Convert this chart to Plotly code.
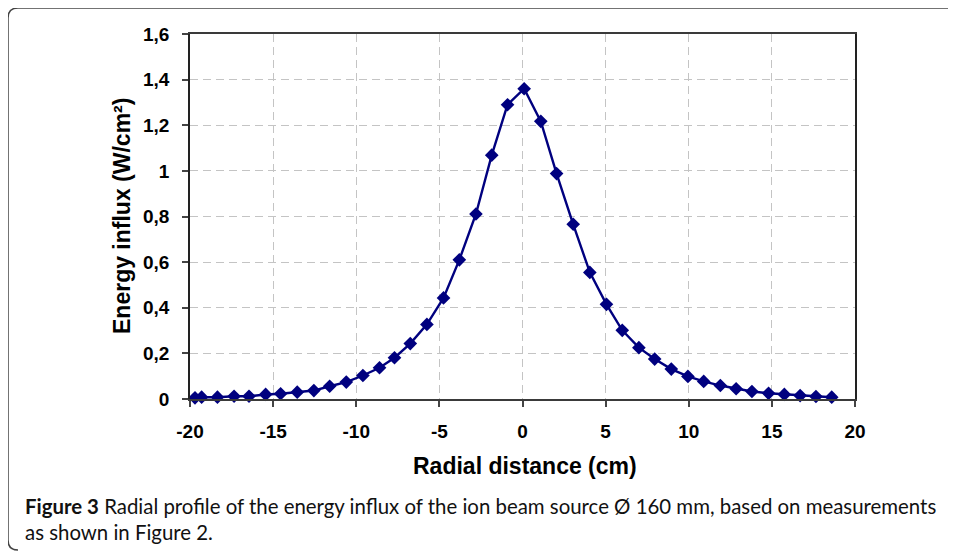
import plotly.graph_objects as go

# Data
radial_cm = [-19.7, -19.3, -18.35, -17.35, -16.45, -15.45, -14.55, -13.55, -12.55, -11.6,
             -10.6, -9.6, -8.6, -7.7, -6.75, -5.75, -4.75, -3.8, -2.8, -1.85,
             -0.9, 0.1, 1.1, 2.05, 3.05, 4.05, 5.05, 6.0, 7.0, 7.95,
             8.95, 9.95, 10.9, 11.9, 12.85, 13.8, 14.8, 15.75, 16.7, 17.65, 18.6]
influx = [0.005, 0.008, 0.008, 0.012, 0.012, 0.020, 0.023, 0.030, 0.037, 0.056,
          0.074, 0.103, 0.137, 0.181, 0.243, 0.327, 0.443, 0.610, 0.811, 1.069,
          1.290, 1.360, 1.217, 0.988, 0.766, 0.555, 0.415, 0.301, 0.225, 0.175,
          0.131, 0.099, 0.077, 0.059, 0.045, 0.033, 0.025, 0.020, 0.015, 0.011, 0.008]

x_tickvals = [-20, -15, -10, -5, 0, 5, 10, 15, 20]
x_ticktext = ["-20", "-15", "-10", "-5", "0", "5", "10", "15", "20"]
y_tickvals = [0, 0.2, 0.4, 0.6, 0.8, 1.0, 1.2, 1.4, 1.6]
y_ticktext = ["0", "0,2", "0,4", "0,6", "0,8", "1", "1,2", "1,4", "1,6"]

x_title = "Radial distance (cm)"
y_title = "Energy influx (W/cm²)"
caption_1 = "<b>Figure 3</b> Radial profile of the energy influx of the ion beam source Ø 160 mm, based on measurements"
caption_2 = "as shown in Figure 2."

# The page body adds an 8px offset; compensate so page pixels match the reference
OFF = 8
W, H = 956 - OFF, 551 - OFF
ML, MR, MT, MB = 190 - OFF, 101, 34 - OFF, 152
PW = W - ML - MR
PH = H - MT - MB


def px(xp):
    return (xp - OFF - ML) / PW


def py(yp):
    return (H - MB - (yp - OFF)) / PH


navy = "#00007f"
fig = go.Figure()
fig.add_trace(go.Scatter(
    x=radial_cm, y=influx, mode="lines+markers",
    line=dict(color=navy, width=2.4),
    marker=dict(symbol="diamond", size=10.5, color=navy),
    cliponaxis=False, showlegend=False,
))

tickfont = dict(family="Liberation Sans, Arial, sans-serif", size=19, color="black", weight="bold")
grid = dict(showgrid=True, gridcolor="#c4c4c4", gridwidth=1.3, griddash="8px,5px")

fig.update_xaxes(range=[-20, 20], tickvals=x_tickvals, ticktext=x_ticktext,
                 ticks="outside", ticklen=6, tickwidth=1.5, tickcolor="#444",
                 showline=True, linecolor="#3a3a3a", linewidth=2, mirror=True,
                 zeroline=False, tickfont=tickfont, ticklabelstandoff=8, **grid)
fig.update_yaxes(range=[0, 1.6], tickvals=y_tickvals, ticktext=y_ticktext,
                 ticks="outside", ticklen=6, tickwidth=1.5, tickcolor="#444",
                 showline=True, linecolor="#222", linewidth=1.5, mirror=True,
                 zeroline=False, tickfont=tickfont, ticklabelstandoff=9, **grid)

title_font = dict(family="Liberation Sans, Arial, sans-serif", size=23, color="black", weight="bold")
cap_font = dict(family="Lato, Open Sans, sans-serif", size=20.4, color="#111")

# Rounded frame (open on the right, as in the reference crop)
rx, ry = 10 / PW, 10 / PH
xl, yt, yb, xr = px(8), py(8), py(550), px(956)
frame = dict(color="#444", width=1.5)
shapes = [
    dict(type="line", xref="paper", yref="paper", x0=xl + rx, x1=xr, y0=yt, y1=yt, line=frame),
    dict(type="line", xref="paper", yref="paper", x0=xl, x1=xl, y0=yt - ry, y1=yb + ry, line=frame),
    dict(type="path", xref="paper", yref="paper",
         path=f"M {xl+rx},{yt} Q {xl},{yt} {xl},{yt-ry}", line=frame),
    dict(type="path", xref="paper", yref="paper",
         path=f"M {xl},{yb+ry} Q {xl},{yb} {xl+rx},{yb}", line=frame),
]

fig.update_layout(
    width=W, height=H,
    margin=dict(l=ML, r=MR, t=MT, b=MB),
    paper_bgcolor="white", plot_bgcolor="white",
    shapes=shapes,
    annotations=[
        dict(text=x_title, xref="paper", yref="paper", x=px(525), y=py(466),
             xanchor="center", yanchor="middle", showarrow=False, font=title_font),
        dict(text=y_title, xref="paper", yref="paper", x=px(122), y=py(216),
             xanchor="center", yanchor="middle", textangle=-90, showarrow=False, font=title_font),
        dict(text=caption_1, xref="paper", yref="paper", x=px(23), y=py(506),
             xanchor="left", yanchor="middle", showarrow=False, font=cap_font),
        dict(text=caption_2, xref="paper", yref="paper", x=px(23), y=py(532),
             xanchor="left", yanchor="middle", showarrow=False, font=cap_font),
    ],
)

fig.write_html("out.html")
